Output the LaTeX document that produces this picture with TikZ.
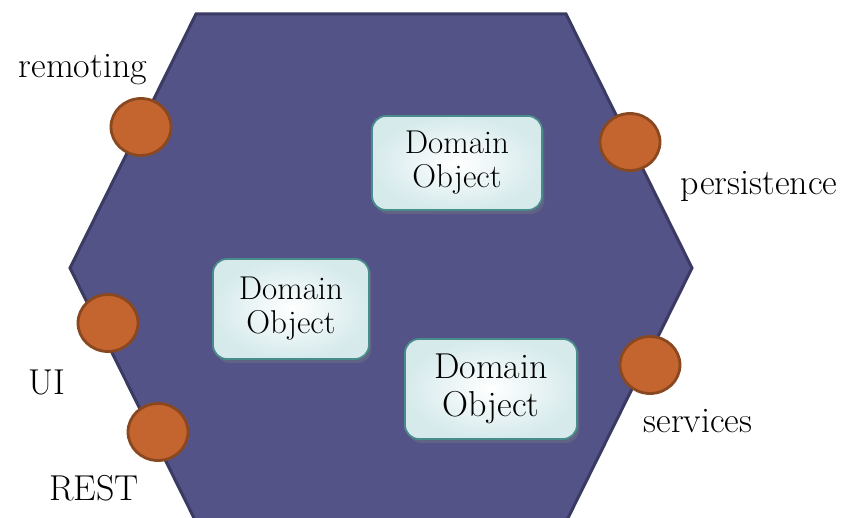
\documentclass[tikz,border=0pt]{standalone}
\usepackage{tikz}
\usetikzlibrary{shapes.geometric,shadows}
\definecolor{hexFill}{RGB}{83,83,136}
\definecolor{hexLine}{RGB}{58,58,98}
\definecolor{portFill}{RGB}{196,101,48}
\definecolor{portLine}{RGB}{138,72,32}
\definecolor{boxLine}{RGB}{72,140,140}
\definecolor{boxOuter}{RGB}{214,234,236}

\begin{document}
\begin{tikzpicture}[x=0.5pt,y=-0.5pt,
  port/.style={ellipse,draw=portLine,fill=portFill,line width=1.4pt,minimum width=30pt,minimum height=28.5pt,inner sep=0pt},
  lbl/.style={font=\fontsize{18}{21}\selectfont},
  domobj/.style={draw=boxLine,line width=0.9pt,rounded corners=7pt,inner color=white,outer color=boxOuter,
    align=center,font=\fontsize{16.5}{17}\selectfont,
    drop shadow={shadow xshift=1.2pt,shadow yshift=-2pt,opacity=0.35}}]
\useasboundingbox (0,0) rectangle (841,518);
\clip (0,0) rectangle (841,518);
% hexagon
\draw[fill=hexFill,draw=hexLine,line width=1.5pt] (196,14)--(566,14)--(692,268)--(566,522)--(196,522)--(70,268)--cycle;
% domain objects
\node[domobj,minimum width=85pt,minimum height=47pt] (objA) at (457,163) {Domain\\Object};
\node[domobj,minimum width=78pt,minimum height=50pt] (objB) at (291,309) {Domain\\Object};
\node[domobj,minimum width=86pt,minimum height=50pt,font=\fontsize{18}{19}\selectfont] (objC) at (491,389) {Domain\\Object};
% ports
\node[port] (remoting) at (141,127) {};
\node[port] (persist) at (630,142) {};
\node[port] (ui) at (108,323) {};
\node[port] (rest) at (158,432) {};
\node[port] (services) at (650,365) {};
% labels
\node[lbl] (remotingLbl) at (83,70) {remoting};
\node[lbl] (persistLbl) at (759,186) {persistence};
\node[lbl] (uiLbl) at (47,382) {UI};
\node[lbl] (restLbl) at (94,488) {REST};
\node[lbl] (servicesLbl) at (698,421) {services};
\end{tikzpicture}
\end{document}
